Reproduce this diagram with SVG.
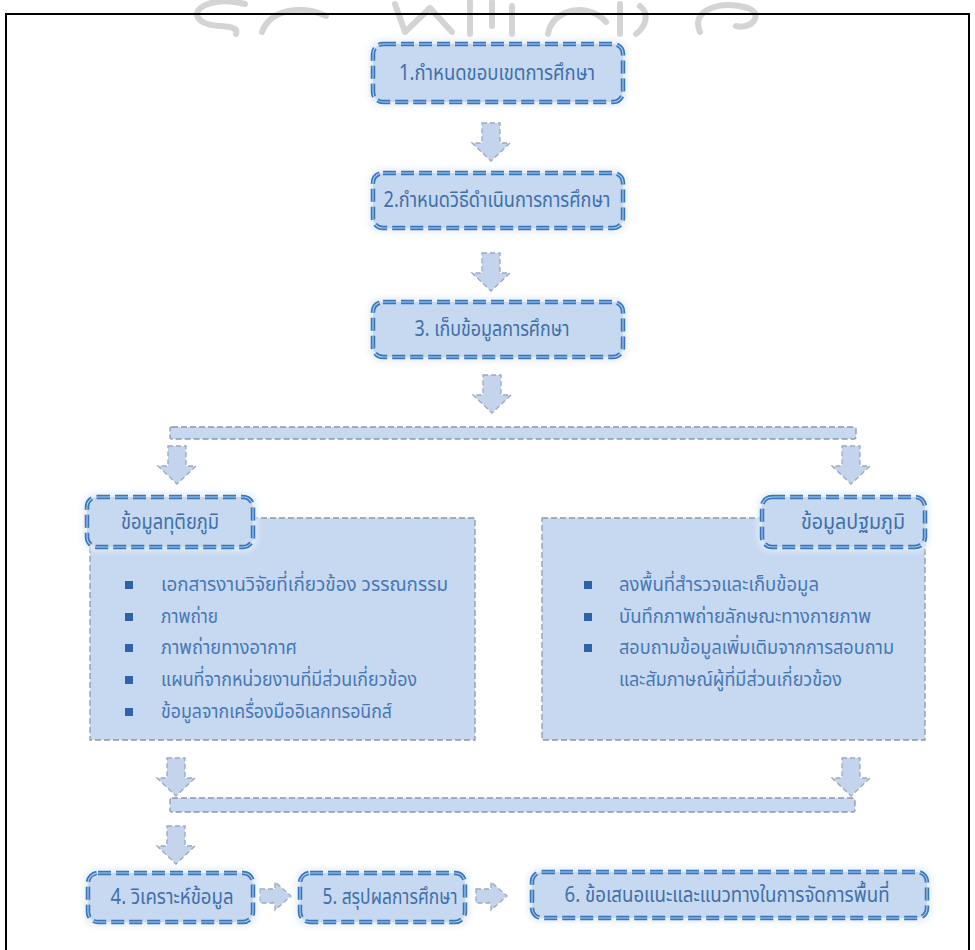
<svg xmlns="http://www.w3.org/2000/svg" width="975" height="950" viewBox="0 0 975 950">
<style>
  .frame{fill:none;stroke:#000;stroke-width:2}
  .wm{fill:none;stroke:#d4d4d4;stroke-width:6;stroke-linecap:round;stroke-linejoin:round}
  .boxfill{fill:#c6d9f0}
  .boxline{fill:none;stroke:#3576bd;stroke-width:4.5;stroke-dasharray:13 5}
  .boxinner{fill:none;stroke:#b5cdea;stroke-width:1.1;stroke-dasharray:13 5}
  .glow{fill:#e3ecf8}
  .panel{fill:#c6d9f1;stroke:#8d98aa;stroke-width:1.3;stroke-dasharray:6 3}
  .bar{fill:#c6d9f1;stroke:#8d98aa;stroke-width:1.3;stroke-dasharray:6 3}
  .arrow{fill:#c3d4ec;stroke:#9aa9c0;stroke-width:1.3;stroke-dasharray:5 3}
  .t{font-family:"Noto Sans Thai","Leelawadee UI",Tahoma,"Noto Sans","DejaVu Sans",sans-serif;font-size:21px;fill:#416fa9}
  .li{font-family:"Noto Sans Thai","Leelawadee UI",Tahoma,"Noto Sans","DejaVu Sans",sans-serif;font-size:20px;fill:#4877b3}
  .bul{fill:#2f63a6}
</style>
<defs>
  <path id="dn" d="M-9,0 H9 V20 H19 L0,38 L-19,20 H-9 Z"/>
  <path id="rt" d="M0,-7 H15 V-14 L31,0 L15,14 V7 H0 Z"/>
  <filter id="glow" x="-10%" y="-20%" width="120%" height="140%">
    <feGaussianBlur stdDeviation="3"/>
  </filter>
</defs>

<g id="watermark">
  <path class="wm" d="M245,4 C215,-4 188,8 200,20 C210,30 240,22 236,34"/>
  <path class="wm" d="M262,32 C270,10 300,4 326,16"/>
  <path class="wm" d="M395,4 L405,32 L430,8 L452,32"/>
  <path class="wm" d="M470,2 V34 M492,2 V26 M512,6 V34"/>
  <path class="wm" d="M548,34 C552,8 590,2 606,22 M620,4 V34 M640,6 C650,14 646,26 636,34"/>
  <path class="wm" d="M700,32 C690,10 720,0 748,8 C764,14 752,30 736,26"/>
</g>

<path class="frame" d="M6,950 V14 H969 V950"/>

<g id="connectors">
  <use href="#dn" class="arrow" x="491" y="123"/>
  <use href="#dn" class="arrow" x="491" y="253"/>
  <use href="#dn" class="arrow" x="492" y="375"/>
  <rect class="bar" x="170" y="427" width="686" height="12" rx="2"/>
  <use href="#dn" class="arrow" x="177" y="446"/>
  <use href="#dn" class="arrow" x="851" y="446"/>
  <use href="#dn" class="arrow" x="176" y="758"/>
  <use href="#dn" class="arrow" x="851" y="758"/>
  <rect class="bar" x="170" y="798" width="685" height="14" rx="2"/>
  <use href="#dn" class="arrow" x="176" y="826"/>
  <use href="#rt" class="arrow" x="260" y="896"/>
  <use href="#rt" class="arrow" x="476" y="896"/>
</g>

<g id="n1">
  <rect class="glow" x="369" y="40" width="258" height="66" rx="12" filter="url(#glow)"/>
  <rect class="boxfill" x="373" y="44" width="250" height="58" rx="10"/>
  <rect class="boxline" x="373" y="44" width="250" height="58" rx="10"/>
  <rect class="boxinner" x="373" y="44" width="250" height="58" rx="10"/>
  <text class="t" x="497" y="80" text-anchor="middle" textLength="196" lengthAdjust="spacingAndGlyphs">1.กำหนดขอบเขตการศึกษา</text>
</g>

<g id="n2">
  <rect class="glow" x="369" y="169" width="258" height="63" rx="12" filter="url(#glow)"/>
  <rect class="boxfill" x="373" y="173" width="250" height="55" rx="10"/>
  <rect class="boxline" x="373" y="173" width="250" height="55" rx="10"/>
  <rect class="boxinner" x="373" y="173" width="250" height="55" rx="10"/>
  <text class="t" x="497" y="207" text-anchor="middle" textLength="227" lengthAdjust="spacingAndGlyphs">2.กำหนดวิธีดำเนินการการศึกษา</text>
</g>

<g id="n3">
  <rect class="glow" x="369" y="298" width="258" height="63" rx="12" filter="url(#glow)"/>
  <rect class="boxfill" x="373" y="302" width="250" height="55" rx="10"/>
  <rect class="boxline" x="373" y="302" width="250" height="55" rx="10"/>
  <rect class="boxinner" x="373" y="302" width="250" height="55" rx="10"/>
  <text class="t" x="492" y="336" text-anchor="middle" textLength="155" lengthAdjust="spacingAndGlyphs">3. เก็บข้อมูลการศึกษา</text>
</g>

<g id="n-secondary">
  <rect class="panel" x="90" y="518" width="385" height="222"/>
  <rect class="glow" x="83" y="493" width="174" height="58" rx="12" filter="url(#glow)"/>
  <rect class="boxfill" x="87" y="497" width="166" height="50" rx="10"/>
  <rect class="boxline" x="87" y="497" width="166" height="50" rx="10"/>
  <rect class="boxinner" x="87" y="497" width="166" height="50" rx="10"/>
  <text class="t" x="121" y="529" textLength="98" lengthAdjust="spacingAndGlyphs">ข้อมูลทุติยภูมิ</text>
  <rect class="bul" x="125" y="581" width="8" height="8"/>
  <text class="li" x="161" y="591" textLength="287" lengthAdjust="spacingAndGlyphs">เอกสารงานวิจัยที่เกี่ยวข้อง วรรณกรรม</text>
  <rect class="bul" x="125" y="613" width="8" height="8"/>
  <text class="li" x="161" y="623" textLength="57" lengthAdjust="spacingAndGlyphs">ภาพถ่าย</text>
  <rect class="bul" x="125" y="644" width="8" height="8"/>
  <text class="li" x="161" y="654" textLength="136" lengthAdjust="spacingAndGlyphs">ภาพถ่ายทางอากาศ</text>
  <rect class="bul" x="125" y="676" width="8" height="8"/>
  <text class="li" x="161" y="686" textLength="256" lengthAdjust="spacingAndGlyphs">แผนที่จากหน่วยงานที่มีส่วนเกี่ยวข้อง</text>
  <rect class="bul" x="125" y="708" width="8" height="8"/>
  <text class="li" x="161" y="718" textLength="231" lengthAdjust="spacingAndGlyphs">ข้อมูลจากเครื่องมืออิเลกทรอนิกส์</text>
</g>

<g id="n-primary">
  <rect class="panel" x="542" y="518" width="383" height="222"/>
  <rect class="glow" x="758" y="493" width="171" height="58" rx="12" filter="url(#glow)"/>
  <rect class="boxfill" x="762" y="497" width="163" height="50" rx="10"/>
  <rect class="boxline" x="762" y="497" width="163" height="50" rx="10"/>
  <rect class="boxinner" x="762" y="497" width="163" height="50" rx="10"/>
  <text class="t" x="801" y="529" textLength="104" lengthAdjust="spacingAndGlyphs">ข้อมูลปฐมภูมิ</text>
  <rect class="bul" x="584" y="581" width="8" height="8"/>
  <text class="li" x="619" y="591" textLength="200" lengthAdjust="spacingAndGlyphs">ลงพื้นที่สำรวจและเก็บข้อมูล</text>
  <rect class="bul" x="584" y="613" width="8" height="8"/>
  <text class="li" x="619" y="623" textLength="252" lengthAdjust="spacingAndGlyphs">บันทึกภาพถ่ายลักษณะทางกายภาพ</text>
  <rect class="bul" x="584" y="644" width="8" height="8"/>
  <text class="li" x="619" y="654" textLength="275" lengthAdjust="spacingAndGlyphs">สอบถามข้อมูลเพิ่มเติมจากการสอบถาม</text>
  <text class="li" x="619" y="686" textLength="223" lengthAdjust="spacingAndGlyphs">และสัมภาษณ์ผู้ที่มีส่วนเกี่ยวข้อง</text>
</g>

<g id="n4">
  <rect class="glow" x="84" y="869" width="173" height="57" rx="12" filter="url(#glow)"/>
  <rect class="boxfill" x="88" y="873" width="165" height="49" rx="10"/>
  <rect class="boxline" x="88" y="873" width="165" height="49" rx="10"/>
  <rect class="boxinner" x="88" y="873" width="165" height="49" rx="10"/>
  <text class="t" x="172" y="904" text-anchor="middle" textLength="123" lengthAdjust="spacingAndGlyphs">4. วิเคราะห์ข้อมูล</text>
</g>

<g id="n5">
  <rect class="glow" x="296" y="869" width="173" height="57" rx="12" filter="url(#glow)"/>
  <rect class="boxfill" x="300" y="873" width="165" height="49" rx="10"/>
  <rect class="boxline" x="300" y="873" width="165" height="49" rx="10"/>
  <rect class="boxinner" x="300" y="873" width="165" height="49" rx="10"/>
  <text class="t" x="390" y="904" text-anchor="middle" textLength="135" lengthAdjust="spacingAndGlyphs">5. สรุปผลการศึกษา</text>
</g>

<g id="n6">
  <rect class="glow" x="528" y="868" width="403" height="54" rx="12" filter="url(#glow)"/>
  <rect class="boxfill" x="532" y="872" width="395" height="46" rx="10"/>
  <rect class="boxline" x="532" y="872" width="395" height="46" rx="10"/>
  <rect class="boxinner" x="532" y="872" width="395" height="46" rx="10"/>
  <text class="t" x="727" y="902" text-anchor="middle" textLength="325" lengthAdjust="spacingAndGlyphs">6. ข้อเสนอแนะและแนวทางในการจัดการพื้นที่</text>
</g>
</svg>
